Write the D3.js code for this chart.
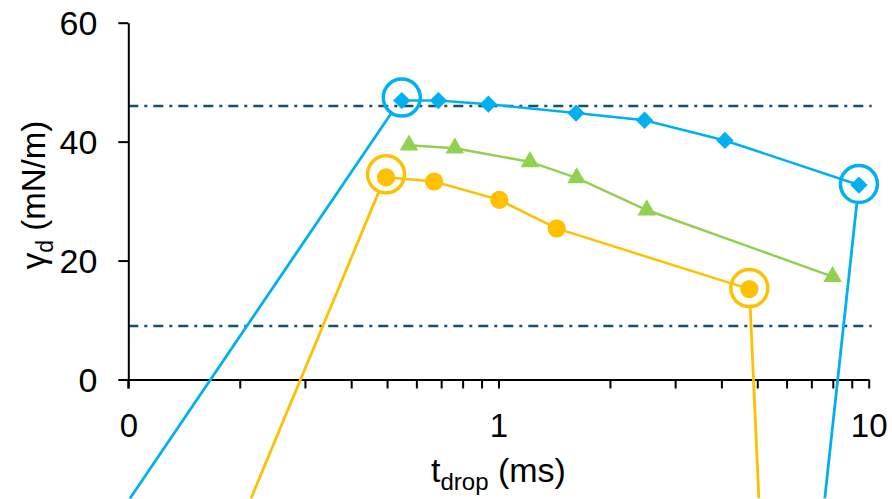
<!DOCTYPE html>
<html>
<head>
<meta charset="utf-8">
<script src="https://cdn.jsdelivr.net/npm/d3@7"></script>
<style>
  html, body { margin: 0; padding: 0; background: #fff; }
  svg { display: block; font-family: "Liberation Sans", Arial, sans-serif; }
</style>
</head>
<body>
<div id="chart"></div>
<script>
// values
const blueX = [0.548, 0.688, 0.939, 1.62, 2.48, 4.09, 9.41];
const blueY = [46.9, 46.9, 46.3, 44.8, 43.6, 40.2, 32.7];
const greenX = [0.573, 0.762, 1.216, 1.626, 2.514, 7.99];
const greenY = [39.4, 38.9, 36.6, 33.9, 28.5, 17.3];
const orangeX = [0.497, 0.670, 1.005, 1.436, 4.76];
const orangeY = [34.0, 33.3, 30.2, 25.4, 15.2];

const refLevels = [46, 9];

const xMajor = [0.1, 1, 10];
const xMajorLabels = ["0", "1", "10"];
const yTicks = [0, 20, 40, 60];

// circled points with leader lines running off below the axis
const annotations = [
  { series: "blue", index: 0, toX: 0.101, toY: -20 },
  { series: "blue", index: 6, toX: 7.61, toY: -20 },
  { series: "orange", index: 0, toX: 0.2145, toY: -20 },
  { series: "orange", index: 4, toX: 5.05, toY: -20 }
];

const width = 892;
const height = 499;

const colors = { blue: "#00B0F0", green: "#92D050", orange: "#FFC000" };

const series = [
  { name: "blue", xs: blueX, ys: blueY, symbol: "diamond" },
  { name: "green", xs: greenX, ys: greenY, symbol: "triangle" },
  { name: "orange", xs: orangeX, ys: orangeY, symbol: "circle" }
];

const x = d3.scaleLog().domain([0.1, 10]).range([128.3, 868.7]);
const y = d3.scaleLinear().domain([0, 60]).range([379.5, 22.7]);

const svg = d3.select("#chart")
  .append("svg")
  .attr("width", width)
  .attr("height", height);

// dash-dot reference lines
svg.append("g")
  .selectAll("line")
  .data(refLevels)
  .enter()
  .append("line")
  .attr("x1", x(0.1))
  .attr("x2", x(10) + 3)
  .attr("y1", d => y(d))
  .attr("y2", d => y(d))
  .attr("stroke", "#17506B")
  .attr("stroke-width", 2.5)
  .attr("stroke-dasharray", "10,6,3,6");

// axes
const allXTicks = [];
[0.1, 1].forEach(dec => {
  for (let k = 1; k <= 9; k++) allXTicks.push(+(dec * k).toPrecision(3));
});
allXTicks.push(10);

const xAxis = svg.append("g")
  .attr("transform", `translate(0,${y(0)})`)
  .call(d3.axisBottom(x)
    .tickValues(allXTicks)
    .tickSize(9)
    .tickSizeOuter(0)
    .tickFormat(d => {
      const i = xMajor.indexOf(d);
      return i >= 0 ? xMajorLabels[i] : "";
    }));

xAxis.select(".domain").attr("stroke", "#000").attr("stroke-width", 2);
xAxis.selectAll(".tick line").attr("stroke", "#000").attr("stroke-width", 2);
xAxis.selectAll(".tick text")
  .attr("y", 57)
  .attr("dy", null)
  .attr("fill", "#000")
  .style("font-size", "33px");

const yAxis = svg.append("g")
  .attr("transform", `translate(${x(0.1)},0)`)
  .call(d3.axisLeft(y)
    .tickValues(yTicks)
    .tickSize(10)
    .tickSizeOuter(0)
    .tickPadding(21));

yAxis.select(".domain").attr("stroke", "#000").attr("stroke-width", 2);
yAxis.selectAll(".tick line").attr("stroke", "#000").attr("stroke-width", 2);
yAxis.selectAll(".tick text")
  .attr("fill", "#000")
  .attr("dy", "0.36em")
  .style("font-size", "34px");

// y-axis extends below as the 0.1 tick
svg.append("line")
  .attr("x1", x(0.1)).attr("x2", x(0.1))
  .attr("y1", y(0)).attr("y2", y(0) + 9)
  .attr("stroke", "#000").attr("stroke-width", 2);

// series lines + markers
const line = d3.line().x(d => x(d[0])).y(d => y(d[1]));

const symbols = {
  diamond: d3.symbol().type(d3.symbolSquare).size(150),
  triangle: d3.symbol().type(d3.symbolTriangle).size(150),
  circle: d3.symbol().type(d3.symbolCircle).size(260)
};

series.forEach(s => {
  const pts = s.xs.map((v, i) => [v, s.ys[i]]);
  svg.append("path")
    .datum(pts)
    .attr("d", line)
    .attr("fill", "none")
    .attr("stroke", colors[s.name])
    .attr("stroke-width", 2.5);

  svg.append("g")
    .selectAll("path")
    .data(pts)
    .enter()
    .append("path")
    .attr("d", symbols[s.symbol])
    .attr("transform", d => `translate(${x(d[0])},${y(d[1])})` + (s.symbol === "diamond" ? " rotate(45)" : ""))
    .attr("fill", colors[s.name]);
});

// annotation rings and leader lines
const ringR = 18.5;
const byName = Object.fromEntries(series.map(s => [s.name, s]));

annotations.forEach(a => {
  const s = byName[a.series];
  const cx = x(s.xs[a.index]);
  const cy = y(s.ys[a.index]) - (a.index === 0 ? 3 : 1);
  const ex = x(a.toX);
  const ey = y(a.toY);
  const len = Math.hypot(ex - cx, ey - cy);
  const sx = cx + (ex - cx) / len * ringR;
  const sy = cy + (ey - cy) / len * ringR;

  svg.append("circle")
    .attr("cx", cx)
    .attr("cy", cy)
    .attr("r", ringR)
    .attr("fill", "none")
    .attr("stroke", colors[a.series])
    .attr("stroke-width", 3.5);

  svg.append("line")
    .attr("x1", sx).attr("y1", sy)
    .attr("x2", ex).attr("y2", ey)
    .attr("stroke", colors[a.series])
    .attr("stroke-width", 2.8);
});

// axis titles
const xTitle = svg.append("text")
  .attr("x", x(1))
  .attr("y", 482)
  .attr("text-anchor", "middle")
  .style("font-size", "34px")
  .attr("fill", "#000");
xTitle.append("tspan").text("t");
xTitle.append("tspan").attr("dy", 8).style("font-size", "24px").text("drop");
xTitle.append("tspan").attr("dy", -8).text(" (ms)");

const yTitle = svg.append("text")
  .attr("transform", "translate(45,195) rotate(-90)")
  .attr("text-anchor", "middle")
  .style("font-size", "33px")
  .attr("fill", "#000");
yTitle.append("tspan").text("γ");
yTitle.append("tspan").attr("dy", 8).style("font-size", "23px").text("d");
yTitle.append("tspan").attr("dy", -8).text(" (mN/m)");
</script>
</body>
</html>
